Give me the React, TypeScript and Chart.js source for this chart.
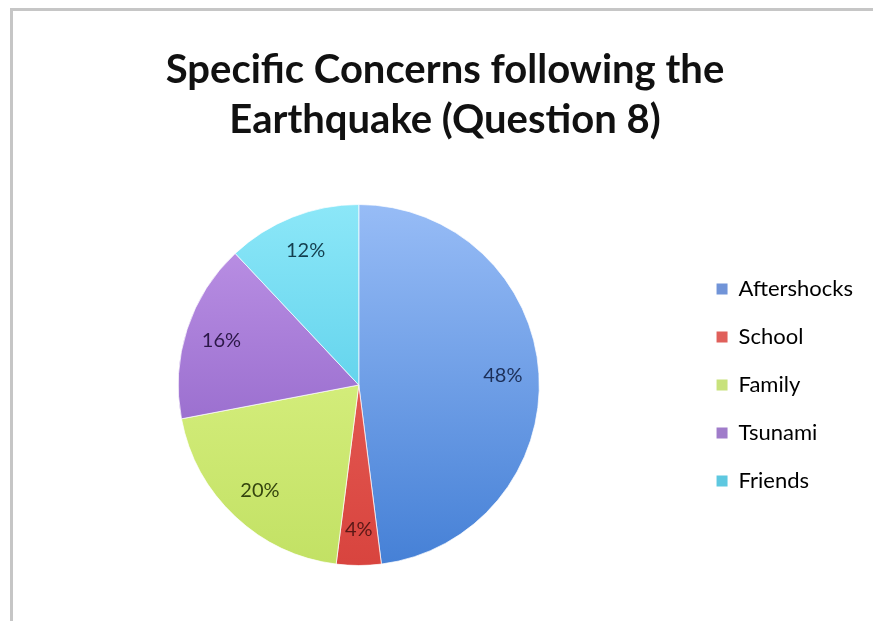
import React, { useEffect, useRef } from "react";
import { Chart, registerables } from "chart.js";

Chart.register(...registerables);

// Survey results: share of respondents naming each concern
const concernLabels = ["Aftershocks", "School", "Family", "Tsunami", "Friends"];
const concernShares = [48, 4, 20, 16, 12];
const titleLines = ["Specific Concerns following the", "Earthquake (Question 8)"];

// Slice shading (light top, darker bottom), legend swatches and label ink
const sliceTop = ["#97bcf6", "#ee6b64", "#e4f890", "#c096e8", "#8ce7f8"];
const sliceBottom = ["#4580d6", "#d8443e", "#c2e164", "#8356bf", "#3ec2e2"];
const swatchColors = ["#7194d8", "#e0605b", "#c8e27c", "#a07cca", "#5ec8e0"];
const labelInk = ["#1c2f58", "#5a1816", "#34440e", "#2c1848", "#143e4e"];

const FONT = "Lato, 'Open Sans', 'DejaVu Sans', sans-serif";

const percentLabels = {
  id: "percentLabels",
  afterDatasetsDraw(chart: any) {
    const ctx = chart.ctx;
    const meta = chart.getDatasetMeta(0);
    ctx.save();
    ctx.font = `20px ${FONT}`;
    ctx.textAlign = "center";
    ctx.textBaseline = "middle";
    meta.data.forEach((arc: any, i: number) => {
      const { x, y, startAngle, endAngle, outerRadius } = arc.getProps(
        ["x", "y", "startAngle", "endAngle", "outerRadius"],
        true
      );
      const mid = (startAngle + endAngle) / 2;
      const r = outerRadius * 0.8;
      ctx.fillStyle = labelInk[i];
      ctx.fillText(`${concernShares[i]}%`, x + Math.cos(mid) * r, y + Math.sin(mid) * r);
    });
    ctx.restore();
  },
};

function sliceFill(ctx: any) {
  const chart = ctx.chart;
  const area = chart.chartArea;
  const i = ctx.dataIndex;
  if (!area) return sliceBottom[i];
  const g = chart.ctx.createLinearGradient(0, area.top, 0, area.bottom);
  g.addColorStop(0, sliceTop[i]);
  g.addColorStop(1, sliceBottom[i]);
  return g;
}

export default function App() {
  const canvasRef = useRef<HTMLCanvasElement | null>(null);

  useEffect(() => {
    document.body.style.margin = "0";
    const chart = new Chart(canvasRef.current as HTMLCanvasElement, {
      type: "pie",
      data: {
        labels: concernLabels,
        datasets: [
          {
            data: concernShares,
            backgroundColor: sliceFill as any,
            borderColor: "rgba(255,255,255,0.7)",
            borderWidth: 1,
          },
        ],
      },
      options: {
        animation: false,
        responsive: false,
        layout: { padding: { left: 27, right: 10, top: 0, bottom: 55 } },
        plugins: {
          title: {
            display: true,
            text: titleLines,
            color: "#111111",
            font: { family: FONT, size: 40, weight: "bold", lineHeight: 1.25 },
            padding: { top: 45, bottom: 59 },
          },
          legend: {
            position: "right",
            fullSize: false,
            labels: {
              boxWidth: 11,
              boxHeight: 11,
              padding: 26,
              color: "#333333",
              font: { family: FONT, size: 22 },
              generateLabels: () =>
                concernLabels.map((text, i) => ({
                  text,
                  fillStyle: swatchColors[i],
                  strokeStyle: swatchColors[i],
                  lineWidth: 0,
                  hidden: false,
                  index: i,
                  datasetIndex: 0,
                })),
            },
          },
          tooltip: { enabled: false },
        },
      },
      plugins: [percentLabels],
    });
    return () => chart.destroy();
  }, []);

  return (
    <div
      style={{
        position: "fixed",
        left: 0,
        top: 0,
        width: 873,
        height: 621,
        background: "#ffffff",
        overflow: "hidden",
      }}
    >
      <div
        style={{
          position: "absolute",
          left: 10,
          top: 8,
          width: 900,
          height: 700,
          border: "3px solid #c6c6c6",
          boxSizing: "border-box",
        }}
      />
      <canvas
        ref={canvasRef}
        width={873}
        height={621}
        style={{ position: "absolute", left: 0, top: 0 }}
      />
    </div>
  );
}
